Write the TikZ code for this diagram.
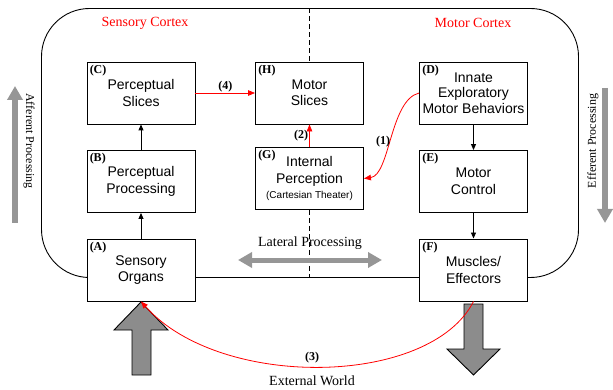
\documentclass[tikz,border=0pt]{standalone}
\usepackage{fontspec}
\setmainfont{Liberation Serif}
\setsansfont{Liberation Sans}
\usetikzlibrary{arrows.meta}
\definecolor{flowgray}{RGB}{150,150,150}
\definecolor{biggray}{RGB}{140,140,140}
\begin{document}
\begin{tikzpicture}[x=1pt,y=-1pt,
  box/.style={draw, line width=0.9pt, fill=white, minimum width=108pt, minimum height=62pt,
    align=center, inner sep=1pt, font=\sffamily\fontsize{14}{16.5}\selectfont},
  tag/.style={font=\rmfamily\bfseries\fontsize{12}{12}\selectfont, inner sep=0pt, anchor=north west},
  num/.style={font=\rmfamily\bfseries\fontsize{12}{12}\selectfont, inner sep=1pt},
  blackarrow/.style={line width=0.9pt, -{Triangle[width=5pt,length=6pt]}},
  redarrow/.style={red, line width=0.8pt, -{Triangle[width=5.5pt,length=7pt]}},
  divider/.style={line width=0.9pt, dash pattern=on 5pt off 3pt},
  region/.style={red, font=\rmfamily\fontsize{14}{14}\selectfont},
  caption/.style={font=\rmfamily\fontsize{14}{14}\selectfont},
  bigarrow/.style={draw, line width=0.9pt, fill=biggray},
  flow/.style={flowgray, line width=5pt, -{Triangle[width=15pt,length=14pt]}},
]
\useasboundingbox (0,0) rectangle (613,390);

% outline of the cortex
\draw[line width=0.9pt, rounded corners=48pt] (41.5,8.5) rectangle (578.5,277.5);
\coordinate (topmid) at (309.5,8.5);
\coordinate (botmid) at (309.5,277.5);

% boxes
\node[box] (A) at (141,270) {Sensory\\Organs};
\node[box] (B) at (141,181.5) {Perceptual\\Processing};
\node[box] (C) at (141,93) {Perceptual\\Slices};
\node[box] (H) at (309.5,93) {Motor\\Slices};
\node[box] (G) at (309.5,178.5) {Internal\\Perception\\[-1pt]{\fontsize{10}{11}\selectfont (Cartesian Theater)}};
\node[box, font=\sffamily\fontsize{14}{15.5}\selectfont] (D) at (473.5,93) {Innate\\Exploratory\\Motor Behaviors};
\node[box] (E) at (473.5,181.5) {Motor\\Control};
\node[box] (F) at (473.5,270) {Muscles/\\Effectors};

\foreach \n/\t in {A/A,B/B,C/C,H/H,G/G,D/D,E/E,F/F}
  \node[tag] at ([xshift=3pt,yshift=-3pt]\n.north west) {(\t)};

% dashed divider between the two cortices
\draw[divider] (topmid) -- (H.north);
\draw[divider] (G.south) -- (botmid);

% region titles
\node[region] (sc) at (145,23) {Sensory Cortex};
\node[region] (mc) at (473,23) {Motor Cortex};

% black processing arrows
\draw[blackarrow] (A) -- (B);
\draw[blackarrow] (B) -- (C);
\draw[blackarrow] (D) -- (E);
\draw[blackarrow] (E) -- (F);

% large input / output arrows
\draw[bigarrow] (132,375) -- (132,330) -- (114,330) -- (141,302) -- (168,330) -- (151,330) -- (151,375) -- cycle;
\draw[bigarrow] (464,304) -- (483,304) -- (483,349) -- (500,349) -- (473.5,375) -- (447,349) -- (464,349) -- cycle;

% red pathways
\draw[redarrow] (C) -- node[num, black, above] {(4)} (H);
\draw[redarrow] (G) -- node[num, black, left] {(2)} (H);
\draw[redarrow] (D.west) .. controls (390,100) and (390,175) .. (G.east);
\node[num] (n1) at (383,142) {(1)};
\draw[redarrow] (F.south) .. controls (430,387) and (220,390) .. (A.south);
\node[num] (n3) at (312,358) {(3)};
\node[caption] (ew) at (312,381) {External World};

% lateral processing
\coordinate (latL) at (238,260);
\coordinate (latR) at (382,260);
\draw[flow, {Triangle[width=15pt,length=14pt]}-{Triangle[width=15pt,length=14pt]}] (latL) -- (latR);
\node[caption] (lat) at (310,243) {Lateral Processing};

% afferent / efferent processing
\coordinate (affB) at (15,223);
\coordinate (affT) at (15,86);
\draw[flow, line width=6pt] (affB) -- (affT);
\node[font=\rmfamily\fontsize{12}{12}\selectfont, rotate=-90] (aff) at (29,141) {Afferent Processing};
\coordinate (effT) at (605,88);
\coordinate (effB) at (605,223);
\draw[flow, line width=6pt] (effT) -- (effB);
\node[font=\rmfamily\fontsize{12}{12}\selectfont, rotate=90] (eff) at (593,141) {Efferent Processing};
\end{tikzpicture}
\end{document}
